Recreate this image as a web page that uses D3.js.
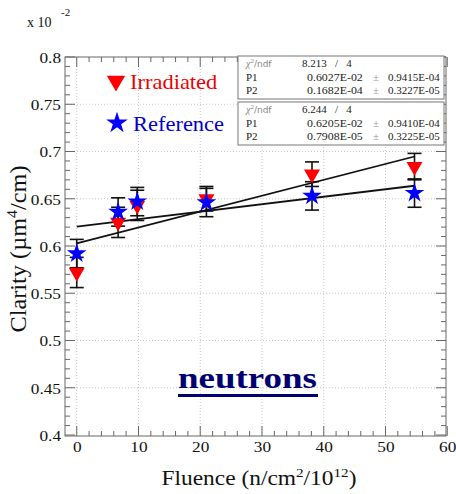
<!DOCTYPE html>
<html>
<head>
<meta charset="utf-8">
<script src="https://cdn.jsdelivr.net/npm/d3@7/dist/d3.min.js"></script>
<style>
  html, body { margin: 0; padding: 0; background: #fff; }
  svg { display: block; }
  text { font-family: "Liberation Serif", "DejaVu Serif", serif; }
</style>
</head>
<body>
<svg id="chart" width="456" height="494"></svg>
<script>
// Fluence in n/cm^2/1e12, clarity in units of 1e-2 µm^4/cm
const fluence = [0, 6.7, 9.8, 21, 38.1, 54.7];
const irradiated = [0.572, 0.625, 0.643, 0.650, 0.676, 0.684];
const irradiatedErr = [0.016, 0.016, 0.016, 0.013, 0.013, 0.014];
const reference = [0.592, 0.636, 0.647, 0.646, 0.653, 0.656];
const referenceErr = [0.015, 0.015, 0.015, 0.015, 0.015, 0.015];

// Linear fit results: y = P1 + P2 * x
const fitIrr = { chi2: "8.213", ndf: "4", p1: 0.6027e-2, p2: 0.1682e-4,
                 p1s: "0.6027E-02", p1e: "0.9415E-04", p2s: "0.1682E-04", p2e: "0.3227E-05" };
const fitRef = { chi2: "6.244", ndf: "4", p1: 0.6205e-2, p2: 0.7908e-5,
                 p1s: "0.6205E-02", p1e: "0.9410E-04", p2s: "0.7908E-05", p2e: "0.3225E-05" };

const xTicks = [0, 10, 20, 30, 40, 50, 60];
const yTicks = [0.4, 0.45, 0.5, 0.55, 0.6, 0.65, 0.7, 0.75, 0.8];

const svg = d3.select("#chart");
const L = 65, R = 446, T = 57, B = 436;
const SERIF = "'Liberation Serif', serif";

const x = d3.scaleLinear().domain([-1.9, 59.8]).range([L, R]);
const y = d3.scaleLinear().domain([0.4, 0.8]).range([B - 1, T]);

// widen a text element horizontally by a factor (the output font runs wide)
function widen(sel, f) {
  sel.each(function () {
    const w = this.getComputedTextLength();
    d3.select(this).attr("textLength", w * f).attr("lengthAdjust", "spacingAndGlyphs");
  });
  return sel;
}

// grid
const grid = svg.append("g").attr("stroke", "#bbb").attr("stroke-dasharray", "1,2").attr("stroke-width", 0.8);
xTicks.forEach(t => {
  if (x(t) > L + 1 && x(t) < R - 1)
    grid.append("line").attr("x1", x(t)).attr("x2", x(t)).attr("y1", T).attr("y2", B);
});
yTicks.forEach(t => {
  if (y(t) > T + 1 && y(t) < B - 1)
    grid.append("line").attr("x1", L).attr("x2", R).attr("y1", y(t)).attr("y2", y(t));
});

// frame
svg.append("rect").attr("x", L).attr("y", T).attr("width", R - L).attr("height", B - T)
  .attr("fill", "none").attr("stroke", "#666").attr("stroke-width", 1);

// ticks on all four sides, pointing inward
const tk = svg.append("g").attr("stroke", "#666").attr("stroke-width", 1);
d3.range(0, 60.01, 2).forEach(v => {
  const major = Math.abs(v % 10) < 1e-6;
  const len = major ? 10 : 5;
  tk.append("line").attr("x1", x(v)).attr("x2", x(v)).attr("y1", B).attr("y2", B - len);
  tk.append("line").attr("x1", x(v)).attr("x2", x(v)).attr("y1", T).attr("y2", T + len);
});
d3.range(0.4, 0.8001, 0.01).forEach(v => {
  const major = Math.abs(Math.round(v * 100) % 5) === 0;
  const len = major ? 10 : 5;
  tk.append("line").attr("x1", L).attr("x2", L + len).attr("y1", y(v)).attr("y2", y(v));
  tk.append("line").attr("x1", R).attr("x2", R - len).attr("y1", y(v)).attr("y2", y(v));
});

// tick labels
const xAxis = d3.axisBottom(x).tickValues(xTicks).tickSize(0).tickPadding(0).tickFormat(d3.format("d"));
const gx = svg.append("g").attr("transform", `translate(0,${B + 5})`).call(xAxis)
  .attr("font-family", SERIF).attr("font-size", 15);
gx.select(".domain").remove();
gx.selectAll("text").attr("fill", "#111").attr("dy", "0.75em");
widen(gx.selectAll("text"), 1.15);

const yAxis = d3.axisLeft(y).tickValues(yTicks).tickSize(0).tickPadding(0)
  .tickFormat(d => String(+d.toFixed(2)));
const gy = svg.append("g").attr("transform", `translate(${L - 4},0)`).call(yAxis)
  .attr("font-family", SERIF).attr("font-size", 15);
gy.select(".domain").remove();
gy.selectAll("text").attr("fill", "#111").attr("dy", "0.35em");
widen(gy.selectAll("text"), 1.15);

// exponent label
const ex = svg.append("text").attr("x", 27).attr("y", 27).attr("font-size", 14).attr("fill", "#111");
ex.append("tspan").text("x 10");
ex.append("tspan").attr("x", 61).attr("y", 16).attr("font-size", 11).text("-2");

// axis titles
const xt = svg.append("text").attr("x", 259).attr("y", 485).attr("text-anchor", "middle")
  .attr("font-size", 20).attr("fill", "#111");
xt.append("tspan").text("Fluence (n/cm");
xt.append("tspan").attr("dy", -8).attr("font-size", 13).text("2");
xt.append("tspan").attr("dy", 8).text("/10");
xt.append("tspan").attr("dy", -8).attr("font-size", 13).text("12");
xt.append("tspan").attr("dy", 8).text(")");
xt.attr("textLength", 195).attr("lengthAdjust", "spacingAndGlyphs");

const yt = svg.append("text").attr("transform", "translate(26,249) rotate(-90)")
  .attr("text-anchor", "middle").attr("font-size", 23).attr("fill", "#111");
yt.append("tspan").text("Clarity (\u00b5m");
yt.append("tspan").attr("dy", -9).attr("font-size", 15).text("4");
yt.append("tspan").attr("dy", 9).text("/cm)");
yt.attr("textLength", 167).attr("lengthAdjust", "spacingAndGlyphs");

// fit lines over the measured fluence range
const fitLine = (f) => {
  const x0 = d3.min(fluence), x1 = d3.max(fluence);
  svg.append("line")
    .attr("x1", x(x0)).attr("y1", y((f.p1 + f.p2 * x0) * 100))
    .attr("x2", x(x1)).attr("y2", y((f.p1 + f.p2 * x1) * 100))
    .attr("stroke", "#111").attr("stroke-width", 1.8);
};
fitLine(fitIrr);
fitLine(fitRef);

// error bars
const errBars = (vals, errs) => {
  const g = svg.append("g").attr("stroke", "#111").attr("stroke-width", 1.6);
  vals.forEach((v, i) => {
    const cx = x(fluence[i]);
    g.append("line").attr("x1", cx).attr("x2", cx).attr("y1", y(v - errs[i])).attr("y2", y(v + errs[i]));
    [v - errs[i], v + errs[i]].forEach(e =>
      g.append("line").attr("x1", cx - 7).attr("x2", cx + 7).attr("y1", y(e)).attr("y2", y(e)));
  });
};
errBars(irradiated, irradiatedErr);
errBars(reference, referenceErr);

// markers
const tri = d3.symbol().type(d3.symbolTriangle).size(110);
const star = d3.symbol().type(d3.symbolStar).size(120);
svg.append("g").selectAll("path").data(irradiated).join("path")
  .attr("d", tri)
  .attr("transform", (d, i) => `translate(${x(fluence[i])},${y(d)}) rotate(180)`)
  .attr("fill", "#f00");
svg.append("g").selectAll("path").data(reference).join("path")
  .attr("d", star)
  .attr("transform", (d, i) => `translate(${x(fluence[i])},${y(d)})`)
  .attr("fill", "#00f");

// legend
svg.append("path").attr("d", tri).attr("transform", "translate(116,81) rotate(180) scale(1.15)").attr("fill", "#f00");
widen(svg.append("text").attr("x", 130).attr("y", 89).attr("font-size", 21).attr("fill", "#e00").text("Irradiated"), 1.07);
svg.append("path").attr("d", star).attr("transform", "translate(117,123) scale(1.1)").attr("fill", "#00f");
widen(svg.append("text").attr("x", 133).attr("y", 131).attr("font-size", 21).attr("fill", "#00c").text("Reference"), 1.07);

// fit statistics boxes
const statBox = (f, top) => {
  const g = svg.append("g");
  g.append("rect").attr("x", 238).attr("y", top).attr("width", 206).attr("height", 43)
    .attr("fill", "#fff").attr("stroke", "#777").attr("stroke-width", 1);
  const t1 = g.append("text").attr("x", 246).attr("y", top + 11).attr("font-size", 10).attr("fill", "#888");
  t1.append("tspan").style("font-style", "italic").text("\u03c7");
  t1.append("tspan").attr("dy", -4).attr("font-size", 7).text("2");
  t1.append("tspan").attr("dy", 4).style("font-family", "'DejaVu Sans', sans-serif").attr("font-size", 9).text("/ndf");
  g.append("text").attr("x", 302).attr("y", top + 11).attr("font-size", 11).attr("fill", "#222")
    .attr("xml:space", "preserve").text(`${f.chi2}   /   ${f.ndf}`);
  [["P1", f.p1s, f.p1e], ["P2", f.p2s, f.p2e]].forEach((r, k) => {
    const yy = top + 25 + k * 13;
    g.append("text").attr("x", 246).attr("y", yy).attr("font-size", 11).attr("fill", "#222").text(r[0]);
    widen(g.append("text").attr("x", 307).attr("y", yy).attr("font-size", 11).attr("fill", "#222").text(r[1]), 1.08);
    g.append("text").attr("x", 373).attr("y", yy).attr("font-size", 11).attr("fill", "#999").text("\u00b1");
    widen(g.append("text").attr("x", 388).attr("y", yy).attr("font-size", 11).attr("fill", "#222").text(r[2]), 1.0);
  });
};
statBox(fitIrr, 56);
statBox(fitRef, 102);

// panel title
const title = svg.append("text").attr("x", 178).attr("y", 388)
  .attr("font-size", 30).attr("font-weight", "bold").attr("fill", "#000070").text("neutrons")
  .attr("textLength", 139).attr("lengthAdjust", "spacingAndGlyphs");
svg.append("rect").attr("x", 178).attr("y", 394).attr("width", 140).attr("height", 3).attr("fill", "#000070");
</script>
</body>
</html>
